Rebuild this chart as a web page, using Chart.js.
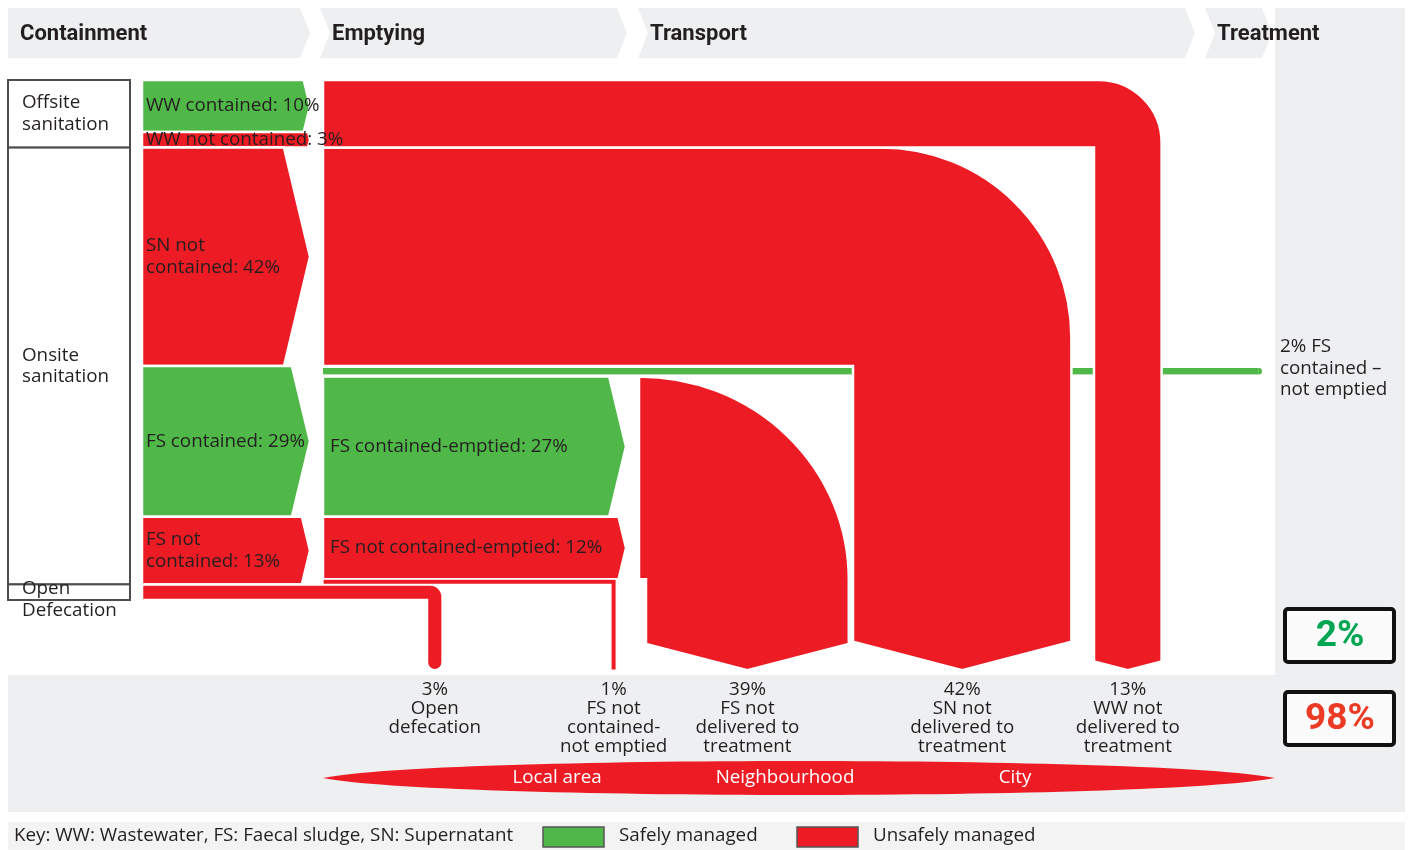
<!DOCTYPE html>
<html>
<head>
<meta charset="utf-8">
<script src="https://cdn.jsdelivr.net/npm/chart.js@4.4.1/dist/chart.umd.min.js"></script>
<style>
  html, body { margin: 0; padding: 0; background: #fff; }
  #wrap { width: 1409px; height: 850px; }
</style>
</head>
<body>
<div id="wrap"><canvas id="sfd"></canvas></div>
<script>
// service chain stages
var stages = ['Containment', 'Emptying', 'Transport', 'Treatment'];

// sanitation systems, % of population
var systems = ['Offsite|sanitation', 'Onsite|sanitation', 'Open|Defecation'];
var systemValues = [13, 84, 3];

// containment
var containNames = ['WW contained', 'WW not contained', 'SN not|contained', 'FS contained', 'FS not|contained'];
var containValues = [10, 3, 42, 29, 13];
var containSafe = [true, false, false, true, false];
var openDefecation = 3;

// emptying
var emptyNames = ['FS contained-emptied', 'FS not contained-emptied'];
var emptyValues = [27, 12];
var emptySafe = [true, false];
var notEmptiedLabel = '2% FS|contained –|not emptied';
var notEmptiedValue = 2;

// flows leaving the chain unsafely
var outcomeNames = ['Open|defecation', 'FS not|contained-|not emptied', 'FS not|delivered to|treatment', 'SN not|delivered to|treatment', 'WW not|delivered to|treatment'];
var outcomeValues = [3, 1, 39, 42, 13];

var safeTotal = 2;
var unsafeTotal = 98;

var scaleLabels = ['Local area', 'Neighbourhood', 'City'];
var keyText = 'Key: WW: Wastewater, FS: Faecal sludge, SN: Supernatant';
var legendLabels = ['Safely managed', 'Unsafely managed'];

var RED = '#ed1c24', GREEN = '#50b848', GREY = '#eeeff1', INK = '#231f20';
var TXT = '18.8px "Open Sans", "Noto Sans", sans-serif';
var HEAD = 'bold 22px "Roboto", sans-serif';

// x columns (x scale units), drop left edges, end of drops (y scale units)
var COL = { sysL: 8, sysR: 130, contL: 142, contR: 310, empL: 323, empR: 626, trL: 639, treatX: 1262, right: 1275 };
var dropX = [427, 611, 646, 853, 1094];
var dropEnd = 113.5;

function lines(ctx, text, x, y, lh) {
  var parts = text.split('|');
  var y0 = y - (parts.length - 1) * lh / 2;
  parts.forEach(function (p, i) { ctx.fillText(p, x, y0 + i * lh); });
}

function chevron(ctx, x0, x1, y0, y1, fill) {
  var d = Math.min(26, (y1 - y0) * 0.12);
  ctx.beginPath();
  ctx.moveTo(x0, y0);
  ctx.lineTo(x1 - d, y0);
  ctx.lineTo(x1, (y0 + y1) / 2);
  ctx.lineTo(x1 - d, y1);
  ctx.lineTo(x0, y1);
  ctx.closePath();
  ctx.fillStyle = fill;
  ctx.fill();
  ctx.stroke();
}

var sfdPlugin = {
  id: 'sfd',
  afterDraw: function (chart) {
    var ctx = chart.ctx;
    var xs = chart.scales.x, ys = chart.scales.y;
    var X = function (v) { return xs.getPixelForValue(v); };
    var Y = function (v) { return ys.getPixelForValue(v); };
    var unit = Y(1) - Y(0);
    var tipY = Y(dropEnd);
    var bottom = Y(100);
    ctx.save();

    // backgrounds
    ctx.fillStyle = GREY;
    ctx.fillRect(X(COL.right), 8, X(1405) - X(COL.right), 804);
    ctx.fillRect(X(8), bottom + 75, X(1405) - X(8), 137);
    ctx.fillStyle = '#f3f3f4';
    ctx.fillRect(X(8), bottom + 222, X(1405) - X(8), 28);

    // stage headers
    var heads = [[8, 310], [320, 627], [638, 1195], [1205, 1272]];
    heads.forEach(function (h, i) {
      var a = X(h[0]), b = X(h[1]);
      ctx.beginPath();
      ctx.moveTo(a, 8);
      ctx.lineTo(b - 10, 8);
      ctx.lineTo(b, 33);
      ctx.lineTo(b - 10, 58);
      ctx.lineTo(a, 58);
      if (i > 0) ctx.lineTo(a + 10, 33);
      ctx.closePath();
      ctx.fillStyle = GREY;
      ctx.fill();
      ctx.fillStyle = INK;
      ctx.font = HEAD;
      ctx.textAlign = 'left';
      ctx.textBaseline = 'middle';
      ctx.fillText(stages[i], a + 12, 34);
    });

    // system boxes
    var cum = 0;
    ctx.strokeStyle = '#4d4d4d';
    ctx.lineWidth = 2;
    systems.forEach(function (s, i) {
      var y0 = Y(cum), y1 = Y(cum + systemValues[i]);
      ctx.fillStyle = '#fff';
      ctx.fillRect(X(COL.sysL), y0, X(COL.sysR) - X(COL.sysL), y1 - y0);
      ctx.strokeRect(X(COL.sysL), y0, X(COL.sysR) - X(COL.sysL), y1 - y0);
      cum += systemValues[i];
    });
    cum = 0;
    ctx.fillStyle = INK;
    ctx.font = TXT;
    ctx.textAlign = 'left';
    ctx.textBaseline = 'middle';
    systems.forEach(function (s, i) {
      var y0 = Y(cum), y1 = Y(cum + systemValues[i]);
      var c = (y0 + y1) / 2;
      if (y1 - y0 < 40) c = y0 + 15;
      lines(ctx, s, X(COL.sysL) + 14, c, 21.5);
      cum += systemValues[i];
    });

    ctx.strokeStyle = '#fff';
    ctx.lineWidth = 2.5;
    ctx.lineJoin = 'miter';

    // containment chevrons
    cum = 0;
    containValues.forEach(function (v, i) {
      chevron(ctx, X(COL.contL), X(COL.contR), Y(cum), Y(cum + v), containSafe[i] ? GREEN : RED);
      cum += v;
    });

    // emptying stack
    var wwTotal = containValues[0] + containValues[1];
    var snTop = wwTotal, snBot = wwTotal + containValues[2];
    var neTop = snBot, neBot = snBot + notEmptiedValue;

    // 2% contained, not emptied: runs under the transport drops
    var gy = (Y(neTop) + Y(neBot)) / 2, gw = (Y(neBot) - Y(neTop)) - 4;
    ctx.fillStyle = GREEN;
    ctx.fillRect(X(COL.empL), gy - gw / 2, X(COL.treatX) - X(COL.empL) - gw / 2, gw);
    ctx.beginPath();
    ctx.arc(X(COL.treatX) - gw / 2, gy, gw / 2, -Math.PI / 2, Math.PI / 2);
    ctx.fill();

    cum = neBot;
    emptyValues.forEach(function (v, i) {
      chevron(ctx, X(COL.empL), X(COL.empR), Y(cum), Y(cum + v), emptySafe[i] ? GREEN : RED);
      cum += v;
    });
    var ncTop = cum, ncBot = cum + outcomeValues[1];
    var odTop = 100 - openDefecation, odBot = 100;

    ctx.fillStyle = RED;
    var top, bot, L, w, R, r, d;

    // open defecation
    top = Y(odTop); bot = Y(odBot); w = outcomeValues[0] * unit;
    L = X(dropX[0]); R = L + w; r = w * 0.8;
    ctx.beginPath();
    ctx.moveTo(X(COL.contL), top);
    ctx.lineTo(R - r, top);
    ctx.arcTo(R, top, R, top + r, r);
    ctx.lineTo(R, tipY - w / 2);
    ctx.arc(L + w / 2, tipY - w / 2, w / 2, 0, Math.PI);
    ctx.lineTo(L, bot);
    ctx.lineTo(X(COL.contL), bot);
    ctx.closePath();
    ctx.fill(); ctx.stroke();

    // FS not contained, not emptied
    top = Y(ncTop); bot = Y(ncBot); w = outcomeValues[1] * unit;
    L = X(dropX[1]); R = L + w;
    ctx.lineWidth = 1.2;
    ctx.beginPath();
    ctx.moveTo(X(COL.empL), top);
    ctx.lineTo(R, top);
    ctx.lineTo(R, tipY);
    ctx.lineTo(L, tipY);
    ctx.lineTo(L, bot);
    ctx.lineTo(X(COL.empL), bot);
    ctx.closePath();
    ctx.fill(); ctx.stroke();
    ctx.lineWidth = 2.5;

    // FS not delivered to treatment
    top = Y(neBot); bot = Y(ncTop); w = outcomeValues[2] * unit;
    var hL = X(COL.trL);
    L = X(dropX[2]); R = L + w; d = w * 0.13;
    ctx.beginPath();
    ctx.moveTo(hL, top);
    ctx.ellipse(hL, bot, R - hL, bot - top, 0, -Math.PI / 2, 0);
    ctx.lineTo(R, tipY - d);
    ctx.lineTo(L + w / 2, tipY);
    ctx.lineTo(L, tipY - d);
    ctx.lineTo(L, bot);
    ctx.lineTo(hL, bot);
    ctx.closePath();
    ctx.fill(); ctx.stroke();

    // SN and WW not delivered to treatment
    [[3, snTop, snBot, 0.87], [4, 0, wwTotal, 0.93]].forEach(function (s) {
      var t = Y(s[1]), b = Y(s[2]), ww = outcomeValues[s[0]] * unit;
      var l = X(dropX[s[0]]), rr = l + ww, rad = ww * s[3], dd = ww * 0.13;
      ctx.beginPath();
      ctx.moveTo(X(COL.empL), t);
      ctx.lineTo(rr - rad, t);
      ctx.arc(rr - rad, t + rad, rad, -Math.PI / 2, 0);
      ctx.lineTo(rr, tipY - dd);
      ctx.lineTo(l + ww / 2, tipY);
      ctx.lineTo(l, tipY - dd);
      ctx.lineTo(l, b);
      ctx.lineTo(X(COL.empL), b);
      ctx.closePath();
      ctx.fill(); ctx.stroke();
    });

    // flow labels
    ctx.fillStyle = INK;
    ctx.font = TXT;
    ctx.textAlign = 'left';
    ctx.textBaseline = 'middle';
    cum = 0;
    containValues.forEach(function (v, i) {
      lines(ctx, containNames[i] + ': ' + v + '%', X(COL.contL) + 4, (Y(cum) + Y(cum + v)) / 2, 22);
      cum += v;
    });
    cum = neBot;
    emptyValues.forEach(function (v, i) {
      ctx.fillText(emptyNames[i] + ': ' + v + '%', X(COL.empL) + 7, (Y(cum) + Y(cum + v)) / 2);
      cum += v;
    });
    lines(ctx, notEmptiedLabel, X(1280), gy - 3, 21.5);

    // outcome labels
    ctx.textAlign = 'center';
    outcomeValues.forEach(function (v, i) {
      var ww = v * unit, cx = X(dropX[i]) + ww / 2;
      var parts = (v + '%|' + outcomeNames[i]).split('|');
      parts.forEach(function (p, k) { ctx.fillText(p, cx, tipY + 19 + k * 19); });
    });

    // local area / neighbourhood / city band
    var lx0 = X(COL.empL), lx1 = X(COL.right), cy = bottom + 178, hh = 17, span = lx1 - lx0;
    ctx.fillStyle = RED;
    ctx.beginPath();
    ctx.moveTo(lx0, cy);
    ctx.bezierCurveTo(lx0 + span * 0.12, cy - hh * 1.33, lx1 - span * 0.12, cy - hh * 1.33, lx1, cy);
    ctx.bezierCurveTo(lx1 - span * 0.12, cy + hh * 1.33, lx0 + span * 0.12, cy + hh * 1.33, lx0, cy);
    ctx.closePath();
    ctx.fill();
    ctx.fillStyle = '#fff';
    [557, 785, 1015].forEach(function (px, i) { ctx.fillText(scaleLabels[i], X(px), cy); });

    // totals
    [[safeTotal, '#00a651', Y(100) + 9], [unsafeTotal, '#ec3b24', Y(100) + 92]].forEach(function (t) {
      ctx.fillStyle = '#fbfbfb';
      ctx.strokeStyle = '#111';
      ctx.lineWidth = 4;
      ctx.beginPath();
      ctx.roundRect(X(1285), t[2], 109, 53, 3);
      ctx.fill(); ctx.stroke();
      ctx.fillStyle = t[1];
      ctx.font = 'bold 37px "Roboto", sans-serif';
      ctx.fillText(t[0] + '%', X(1340), t[2] + 28);
    });

    // key
    var ky = bottom + 236;
    ctx.font = TXT;
    ctx.fillStyle = INK;
    ctx.textAlign = 'left';
    ctx.fillText(keyText, X(14), ky);
    [[543, GREEN], [797, RED]].forEach(function (k, i) {
      ctx.fillStyle = k[1];
      ctx.strokeStyle = '#555';
      ctx.lineWidth = 1.5;
      ctx.fillRect(X(k[0]), ky - 9, 61, 20);
      ctx.strokeRect(X(k[0]), ky - 9, 61, 20);
      ctx.fillStyle = INK;
      ctx.fillText(legendLabels[i], X(k[0]) + 76, ky);
    });

    ctx.restore();
  }
};

new Chart(document.getElementById('sfd'), {
  type: 'scatter',
  data: { datasets: [] },
  options: {
    responsive: true,
    maintainAspectRatio: false,
    animation: false,
    layout: { padding: { top: 80, bottom: 250, left: 0, right: 0 } },
    plugins: { legend: { display: false }, tooltip: { enabled: false } },
    scales: {
      x: { type: 'linear', display: false, min: 0, max: 1409 },
      y: { type: 'linear', display: false, min: 0, max: 100, reverse: true }
    }
  },
  plugins: [sfdPlugin]
});
</script>
</body>
</html>
